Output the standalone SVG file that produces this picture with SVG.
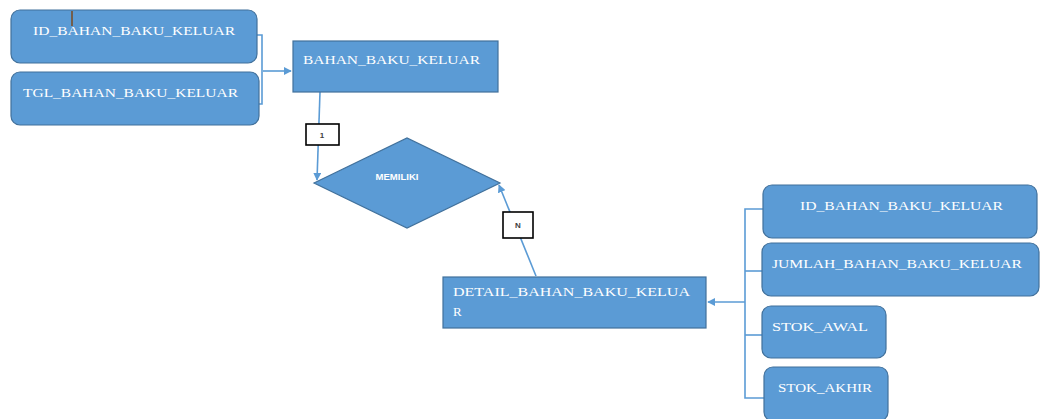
<svg xmlns="http://www.w3.org/2000/svg" width="1043" height="419" viewBox="0 0 1043 419">
  <style>
    .ent { fill: #5B9BD5; stroke: #41719C; stroke-width: 1.2; }
    .attr { fill: #5B9BD5; stroke: #41719C; stroke-width: 1.2; }
    .lbl { font-family: "Liberation Serif", "Times New Roman", serif; font-size: 13px; fill: #FFFFFF; }
    .rel { font-family: "Liberation Sans", Arial, sans-serif; font-size: 9px; font-weight: bold; fill: #FFFFFF; }
    .wire { fill: none; stroke: #5B9BD5; stroke-width: 1.6; }
    .card { fill: #FFFFFF; stroke: #000000; stroke-width: 1.6; }
    .cardtxt { font-family: "Liberation Sans", Arial, sans-serif; font-size: 8px; font-weight: bold; fill: #404040; }
  </style>
  <defs>
    <marker id="head" viewBox="0 0 10 10" refX="9" refY="5" markerWidth="5" markerHeight="5" orient="auto">
      <path d="M0,0 L10,5 L0,10 z" fill="#5B9BD5"/>
    </marker>
  </defs>

  <rect width="1043" height="419" fill="#FFFFFF"/>

  <!-- connectors -->
  <g id="connectors">
    <path class="wire" d="M257,35 H262 V104 H259"/>
    <path class="wire" d="M263,71 H291" marker-end="url(#head)"/>
    <path class="wire" d="M320,92 L317,180" marker-end="url(#head)"/>
    <path class="wire" d="M536,276 L499,185" marker-end="url(#head)"/>
    <path class="wire" d="M763,209 H745 V398 H764"/>
    <path class="wire" d="M745,271 H762"/>
    <path class="wire" d="M745,335 H762"/>
    <path class="wire" d="M745,302 H708" marker-end="url(#head)"/>
    <g id="card-1">
      <rect class="card" x="306" y="124" width="33" height="21"/>
      <text class="cardtxt" x="322" y="138" text-anchor="middle" fill="#808080">1</text>
    </g>
    <g id="card-n">
      <rect class="card" x="503" y="212" width="30" height="26"/>
      <text class="cardtxt" x="518" y="228" text-anchor="middle">N</text>
    </g>
  </g>

  <!-- entity: BAHAN_BAKU_KELUAR and its attributes -->
  <g id="attr-id-bahan-baku-keluar">
    <rect class="attr" x="11" y="10" width="246" height="53" rx="9"/>
    <text class="lbl" x="33" y="35" textLength="202" lengthAdjust="spacingAndGlyphs">ID_BAHAN_BAKU_KELUAR</text>
    <line x1="72" y1="11" x2="72" y2="26" stroke="#7A4A1E" stroke-width="1.5"/>
  </g>
  <g id="attr-tgl-bahan-baku-keluar">
    <rect class="attr" x="11" y="72" width="248" height="53" rx="9"/>
    <text class="lbl" x="23" y="97" textLength="215" lengthAdjust="spacingAndGlyphs">TGL_BAHAN_BAKU_KELUAR</text>
  </g>
  <g id="ent-bahan-baku-keluar">
    <rect class="ent" x="293" y="41" width="205" height="51"/>
    <text class="lbl" x="303" y="64" textLength="177" lengthAdjust="spacingAndGlyphs">BAHAN_BAKU_KELUAR</text>
  </g>

  <!-- relationship -->
  <g id="rel-memiliki">
    <polygon class="ent" points="314,183 407,138 500,183 407,228"/>
    <text class="rel" x="397" y="180" text-anchor="middle" textLength="43" lengthAdjust="spacingAndGlyphs">MEMILIKI</text>
  </g>

  <!-- entity: DETAIL_BAHAN_BAKU_KELUAR and its attributes -->
  <g id="ent-detail-bahan-baku-keluar">
    <rect class="ent" x="443" y="277" width="263" height="51"/>
    <text class="lbl" x="453" y="296" textLength="237" lengthAdjust="spacingAndGlyphs">DETAIL_BAHAN_BAKU_KELUA</text>
    <text class="lbl" x="453" y="316">R</text>
  </g>
  <g id="attr-detail-id">
    <rect class="attr" x="763" y="185" width="274" height="53" rx="9"/>
    <text class="lbl" x="800" y="210" textLength="203" lengthAdjust="spacingAndGlyphs">ID_BAHAN_BAKU_KELUAR</text>
  </g>
  <g id="attr-jumlah">
    <rect class="attr" x="762" y="243" width="277" height="53" rx="9"/>
    <text class="lbl" x="772" y="268" textLength="250" lengthAdjust="spacingAndGlyphs">JUMLAH_BAHAN_BAKU_KELUAR</text>
  </g>
  <g id="attr-stok-awal">
    <rect class="attr" x="762" y="306" width="124" height="52" rx="9"/>
    <text class="lbl" x="772" y="331" textLength="96" lengthAdjust="spacingAndGlyphs">STOK_AWAL</text>
  </g>
  <g id="attr-stok-akhir">
    <rect class="attr" x="764" y="367" width="124" height="54" rx="9"/>
    <text class="lbl" x="778" y="392" textLength="94" lengthAdjust="spacingAndGlyphs">STOK_AKHIR</text>
  </g>
</svg>
